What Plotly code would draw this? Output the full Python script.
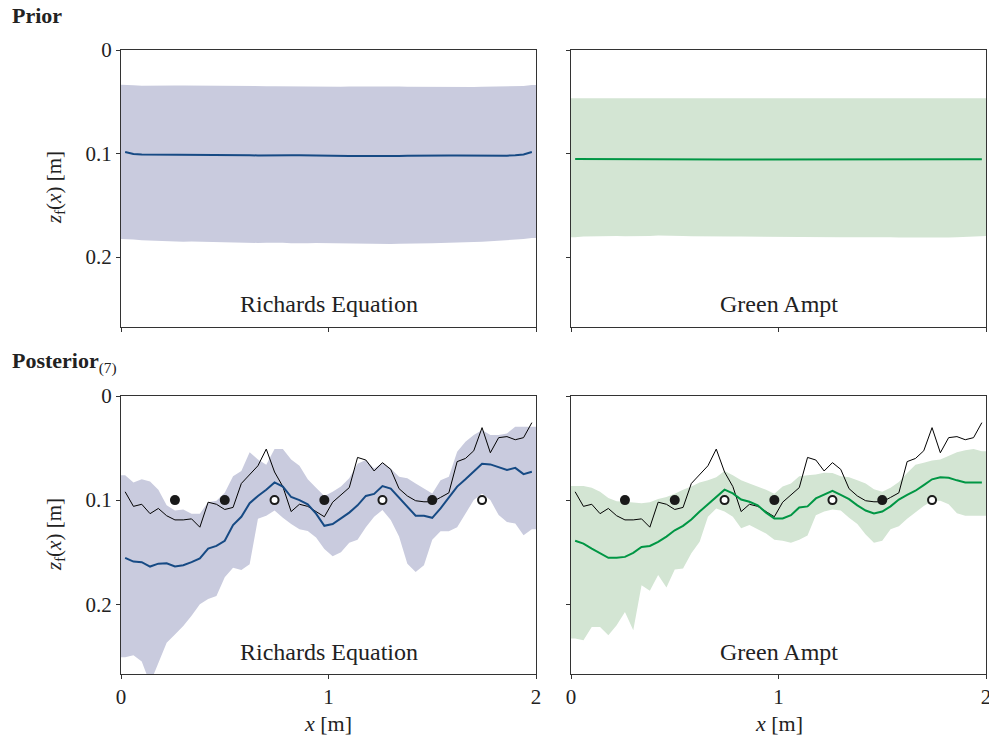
import numpy as np
import plotly.graph_objects as go

# ---------------------------------------------------------------
# Data: wetting-front depth z_f(x) along a 2 m transect (50 cells)
# ---------------------------------------------------------------
X = [round(v, 2) for v in np.arange(0.02, 2.0, 0.04)]
X_MIN, X_MAX = 0.0, 2.0
Y_MAX = 0.267

# reference ("true") front
truth = [0.092, 0.106, 0.104, 0.113, 0.108, 0.115, 0.119, 0.119, 0.118, 0.126,
         0.102, 0.104, 0.109, 0.107, 0.084, 0.076, 0.067, 0.051, 0.073, 0.087,
         0.111, 0.104, 0.106, 0.111, 0.116, 0.102, 0.095, 0.088, 0.059, 0.0615,
         0.072, 0.064, 0.0705, 0.089, 0.096, 0.1006, 0.1016, 0.1016, 0.0974, 0.093,
         0.063, 0.060, 0.0526, 0.0304, 0.0545, 0.040, 0.039, 0.042, 0.040, 0.0256]

# observation locations (filled = used, open = withheld)
obs_x_used = [0.26, 0.50, 0.98, 1.50]
obs_x_held = [0.74, 1.26, 1.74]
obs_depth = 0.1

# --- prior, Richards equation ---
re_prior_mean = [0.0985, 0.1005, 0.101, 0.101, 0.1012, 0.1012, 0.101, 0.101, 0.101, 0.1012,
                 0.1012, 0.1012, 0.1013, 0.1013, 0.1015, 0.1017, 0.1018, 0.1019, 0.1018, 0.1017,
                 0.1017, 0.1016, 0.1016, 0.1017, 0.1018, 0.102, 0.1022, 0.1023, 0.1024, 0.1025,
                 0.1025, 0.1025, 0.1024, 0.1023, 0.1022, 0.102, 0.102, 0.1019, 0.1018, 0.1018,
                 0.1018, 0.1019, 0.102, 0.1021, 0.1022, 0.1021, 0.102, 0.1016, 0.1008, 0.0985]
re_prior_lo = [0.0335, 0.0340, 0.0345, 0.0346, 0.0345, 0.0344, 0.0343, 0.0342, 0.0342, 0.0343,
               0.0345, 0.0347, 0.0346, 0.0345, 0.0344, 0.0345, 0.0347, 0.0349, 0.0351, 0.0352,
               0.0352, 0.0351, 0.0350, 0.0351, 0.0353, 0.0355, 0.0354, 0.0352, 0.0351, 0.0350,
               0.0350, 0.0351, 0.0352, 0.0353, 0.0354, 0.0355, 0.0356, 0.0357, 0.0356, 0.0355,
               0.0356, 0.0358, 0.0357, 0.0355, 0.0354, 0.0355, 0.0356, 0.0355, 0.0348, 0.0338]
re_prior_hi = [0.1825, 0.1830, 0.1838, 0.1842, 0.1846, 0.1850, 0.1852, 0.1851, 0.1850, 0.1852,
               0.1855, 0.1858, 0.1857, 0.1856, 0.1858, 0.1861, 0.1863, 0.1862, 0.1860, 0.1862,
               0.1866, 0.1868, 0.1866, 0.1864, 0.1865, 0.1868, 0.1871, 0.1872, 0.1870, 0.1868,
               0.1869, 0.1872, 0.1873, 0.1871, 0.1868, 0.1866, 0.1865, 0.1866, 0.1864, 0.1860,
               0.1858, 0.1856, 0.1855, 0.1852, 0.1848, 0.1845, 0.1840, 0.1835, 0.1826, 0.1815]

# --- prior, Green-Ampt ---
ga_prior_mean = [0.1052, 0.1052, 0.1052, 0.1051, 0.1051, 0.1051, 0.1051, 0.1051, 0.1051, 0.1050,
                 0.1050, 0.1050, 0.1051, 0.1052, 0.1053, 0.1054, 0.1055, 0.1056, 0.1057, 0.1058,
                 0.1058, 0.1058, 0.1058, 0.1058, 0.1058, 0.1058, 0.1058, 0.1059, 0.1060, 0.1061,
                 0.1062, 0.1063, 0.1063, 0.1063, 0.1062, 0.1061, 0.1060, 0.1059, 0.1059, 0.1059,
                 0.1059, 0.1059, 0.1059, 0.1059, 0.1058, 0.1058, 0.1057, 0.1056, 0.1055, 0.1055]
ga_prior_lo = [0.0465, 0.0466, 0.0466, 0.0465, 0.0465, 0.0465, 0.0465, 0.0465, 0.0466, 0.0467,
               0.0467, 0.0467, 0.0467, 0.0467, 0.0467, 0.0467, 0.0468, 0.0468, 0.0469, 0.0469,
               0.0469, 0.0469, 0.0469, 0.0469, 0.0469, 0.0470, 0.0470, 0.0470, 0.0469, 0.0469,
               0.0469, 0.0469, 0.0469, 0.0469, 0.0469, 0.0469, 0.0469, 0.0469, 0.0469, 0.0469,
               0.0468, 0.0468, 0.0468, 0.0468, 0.0468, 0.0468, 0.0468, 0.0468, 0.0467, 0.0467]
ga_prior_hi = [0.1808, 0.1800, 0.1798, 0.1796, 0.1795, 0.1797, 0.1798, 0.1799, 0.1798, 0.1795,
               0.1792, 0.1791, 0.1792, 0.1795, 0.1798, 0.1800, 0.1801, 0.1802, 0.1802, 0.1802,
               0.1802, 0.1803, 0.1804, 0.1803, 0.1802, 0.1802, 0.1803, 0.1804, 0.1805, 0.1806,
               0.1807, 0.1808, 0.1808, 0.1807, 0.1806, 0.1806, 0.1807, 0.1808, 0.1809, 0.1810,
               0.1811, 0.1812, 0.1812, 0.1812, 0.1811, 0.1810, 0.1809, 0.1806, 0.1802, 0.1796]

# --- posterior, Richards equation ---
re_post_mean = [0.1554, 0.159, 0.1596, 0.1638, 0.161, 0.1606, 0.1638, 0.1625, 0.1596, 0.156,
                0.1465, 0.144, 0.139, 0.124, 0.116, 0.103, 0.096, 0.090, 0.083, 0.087,
                0.097, 0.100, 0.104, 0.113, 0.1247, 0.123, 0.1176, 0.112, 0.105, 0.096,
                0.094, 0.0865, 0.089, 0.098, 0.107, 0.115, 0.115, 0.117, 0.108, 0.0974,
                0.087, 0.080, 0.0728, 0.065, 0.0657, 0.0686, 0.071, 0.069, 0.075, 0.0728]
re_post_lo = [0.076, 0.083, 0.080, 0.082, 0.090, 0.105, 0.110, 0.109, 0.113, 0.113,
              0.102, 0.1005, 0.093, 0.077, 0.072, 0.054, 0.061, 0.066, 0.051, 0.051,
              0.061, 0.067, 0.080, 0.088, 0.096, 0.092, 0.087, 0.079, 0.065, 0.0615,
              0.0696, 0.064, 0.0696, 0.0776, 0.079, 0.084, 0.089, 0.0936, 0.081, 0.0776,
              0.0535, 0.044, 0.0375, 0.0327, 0.0375, 0.0375, 0.036, 0.0295, 0.0295, 0.0295]
re_post_hi = [0.251, 0.249, 0.255, 0.276, 0.257, 0.237, 0.229, 0.221, 0.211, 0.200,
              0.195, 0.192, 0.174, 0.165, 0.167, 0.1616, 0.118, 0.115, 0.110, 0.117,
              0.123, 0.128, 0.1296, 0.136, 0.147, 0.154, 0.150, 0.141, 0.138, 0.126,
              0.116, 0.1096, 0.119, 0.135, 0.161, 0.169, 0.1625, 0.138, 0.130, 0.130,
              0.126, 0.113, 0.100, 0.0936, 0.100, 0.1144, 0.121, 0.1224, 0.1337, 0.128]

# --- posterior, Green-Ampt ---
ga_post_mean = [0.139, 0.1417, 0.1465, 0.151, 0.1554, 0.1554, 0.1545, 0.1506, 0.145, 0.144,
                0.140, 0.135, 0.129, 0.1247, 0.1186, 0.111, 0.104, 0.0968, 0.090, 0.0936,
                0.0994, 0.1016, 0.105, 0.112, 0.1176, 0.1176, 0.1144, 0.107, 0.106, 0.0984,
                0.0945, 0.091, 0.095, 0.099, 0.105, 0.110, 0.1128, 0.111, 0.106, 0.0994,
                0.095, 0.091, 0.0856, 0.080, 0.078, 0.0785, 0.081, 0.083, 0.083, 0.083]
ga_post_lo = [0.0865, 0.0865, 0.088, 0.092, 0.098, 0.101, 0.1016, 0.1026, 0.103, 0.102,
              0.099, 0.097, 0.094, 0.090, 0.087, 0.083, 0.081, 0.078, 0.072, 0.076,
              0.081, 0.084, 0.087, 0.090, 0.094, 0.087, 0.084, 0.077, 0.076, 0.0755,
              0.0736, 0.074, 0.077, 0.078, 0.081, 0.084, 0.0896, 0.092, 0.088, 0.0826,
              0.074, 0.066, 0.064, 0.062, 0.061, 0.0576, 0.054, 0.052, 0.051, 0.053]
ga_post_hi = [0.233, 0.2346, 0.2218, 0.2218, 0.2298, 0.2202, 0.2074, 0.225, 0.1817, 0.187,
              0.172, 0.184, 0.1667, 0.1657, 0.151, 0.140, 0.116, 0.108, 0.111, 0.116,
              0.127, 0.124, 0.128, 0.132, 0.138, 0.139, 0.141, 0.138, 0.134, 0.1146,
              0.111, 0.109, 0.110, 0.117, 0.123, 0.133, 0.141, 0.139, 0.128, 0.125,
              0.118, 0.112, 0.1056, 0.1008, 0.1006, 0.104, 0.1126, 0.115, 0.115, 0.115]

# ---------------------------------------------------------------
# Styling
# ---------------------------------------------------------------
RE_LINE, RE_BAND = "rgb(22,74,132)", "rgb(201,203,222)"
GA_LINE, GA_BAND = "rgb(0,150,68)", "rgb(211,229,211)"
SERIF = "Liberation Serif, DejaVu Serif, serif"
AX_COL = "#333333"
TXT_COL = "#222222"

W, H = 989, 736
LEFT_DOM = [121 / W, 536 / W]
RIGHT_DOM = [571 / W, 986 / W]
TOP_DOM = [1 - 326.5 / H, 1 - 50 / H]
BOT_DOM = [1 - 674 / H, 1 - 396 / H]

fig = go.Figure()


def padded(vals):
    """Extend a cell-centred band to the edges of the transect."""
    return [X_MIN] + X + [X_MAX], [vals[0]] + list(vals) + [vals[-1]]


def add_band(lo, hi, color, xa, ya):
    bx, blo = padded(lo)
    _, bhi = padded(hi)
    fig.add_trace(go.Scatter(x=bx, y=blo, mode="lines", line=dict(width=0),
                             hoverinfo="skip", showlegend=False, xaxis=xa, yaxis=ya))
    fig.add_trace(go.Scatter(x=bx, y=bhi, mode="lines", line=dict(width=0),
                             fill="tonexty", fillcolor=color, hoverinfo="skip",
                             showlegend=False, xaxis=xa, yaxis=ya))


def add_line(vals, color, width, xa, ya):
    fig.add_trace(go.Scatter(x=X, y=vals, mode="lines", line=dict(color=color, width=width),
                             showlegend=False, xaxis=xa, yaxis=ya))


def add_obs(xa, ya):
    fig.add_trace(go.Scatter(x=obs_x_used, y=[obs_depth] * len(obs_x_used), mode="markers",
                             marker=dict(size=10, color="#1a1a1a", line=dict(width=0)),
                             showlegend=False, xaxis=xa, yaxis=ya))
    fig.add_trace(go.Scatter(x=obs_x_held, y=[obs_depth] * len(obs_x_held), mode="markers",
                             marker=dict(size=8, color="white", line=dict(width=2, color="#1a1a1a")),
                             showlegend=False, xaxis=xa, yaxis=ya))


# prior panels
add_band(re_prior_lo, re_prior_hi, RE_BAND, "x", "y")
add_line(re_prior_mean, RE_LINE, 2, "x", "y")
add_band(ga_prior_lo, ga_prior_hi, GA_BAND, "x2", "y2")
add_line(ga_prior_mean, GA_LINE, 2, "x2", "y2")

# posterior panels
add_band(re_post_lo, re_post_hi, RE_BAND, "x3", "y3")
add_line(truth, "black", 1, "x3", "y3")
add_line(re_post_mean, RE_LINE, 2, "x3", "y3")
add_obs("x3", "y3")
add_band(ga_post_lo, ga_post_hi, GA_BAND, "x4", "y4")
add_line(truth, "black", 1, "x4", "y4")
add_line(ga_post_mean, GA_LINE, 2, "x4", "y4")
add_obs("x4", "y4")

tick_font = dict(family=SERIF, size=21, color=TXT_COL)
common_x = dict(range=[X_MIN, X_MAX], tickvals=[0, 1, 2], ticks="outside", ticklen=4,
                tickcolor=AX_COL, showline=True, linecolor=AX_COL, linewidth=1, mirror=True,
                showgrid=False, zeroline=False, tickfont=tick_font, automargin=False,
                ticklabeloverflow="allow")
common_y = dict(range=[Y_MAX, 0], tickvals=[0, 0.1, 0.2], ticktext=["0", "0.1", "0.2"],
                ticks="outside", ticklen=4, tickcolor=AX_COL, showline=True,
                linecolor=AX_COL, linewidth=1, mirror=True, showgrid=False, zeroline=False,
                tickfont=tick_font, automargin=False)

fig.update_layout(
    width=W, height=H, margin=dict(l=0, r=0, t=0, b=0, autoexpand=False),
    paper_bgcolor="white", plot_bgcolor="white",
    font=dict(family=SERIF, color=TXT_COL),
    xaxis=dict(common_x, domain=LEFT_DOM, anchor="y", showticklabels=False),
    yaxis=dict(common_y, domain=TOP_DOM, anchor="x"),
    xaxis2=dict(common_x, domain=RIGHT_DOM, anchor="y2", showticklabels=False),
    yaxis2=dict(common_y, domain=TOP_DOM, anchor="x2", showticklabels=False),
    xaxis3=dict(common_x, domain=LEFT_DOM, anchor="y3"),
    yaxis3=dict(common_y, domain=BOT_DOM, anchor="x3"),
    xaxis4=dict(common_x, domain=RIGHT_DOM, anchor="y4"),
    yaxis4=dict(common_y, domain=BOT_DOM, anchor="x4", showticklabels=False),
)

ann = []
# panel labels
for xr, yr, txt in [("x domain", "y domain", "Richards Equation"),
                    ("x2 domain", "y2 domain", "Green Ampt"),
                    ("x3 domain", "y3 domain", "Richards Equation"),
                    ("x4 domain", "y4 domain", "Green Ampt")]:
    ann.append(dict(xref=xr, yref=yr, x=0.5, y=0.08, text=txt, showarrow=False,
                    xanchor="center", yanchor="middle",
                    font=dict(family=SERIF, size=24, color=TXT_COL)))
# y-axis titles
for yc in [1 - 188 / H, 1 - 535 / H]:
    ann.append(dict(xref="paper", yref="paper", x=55 / W, y=yc, textangle=-90,
                    text="<i>z</i><sub>f</sub>(<i>x</i>) [m]", showarrow=False,
                    xanchor="center", yanchor="middle",
                    font=dict(family=SERIF, size=21, color=TXT_COL)))
# x-axis titles
for xc in [328 / W, 779 / W]:
    ann.append(dict(xref="paper", yref="paper", x=xc, y=1 - 723 / H,
                    text="<i>x</i> [m]", showarrow=False, xanchor="center", yanchor="middle",
                    font=dict(family=SERIF, size=22, color=TXT_COL)))
# section headings
ann.append(dict(xref="paper", yref="paper", x=10 / W, y=1 - 16 / H, text="<b>Prior</b>",
                showarrow=False, xanchor="left", yanchor="middle",
                font=dict(family=SERIF, size=22, color=TXT_COL)))
ann.append(dict(xref="paper", yref="paper", x=10 / W, y=1 - 362 / H,
                text="<b>Posterior</b><sub>(7)</sub>", showarrow=False,
                xanchor="left", yanchor="middle",
                font=dict(family=SERIF, size=22, color=TXT_COL)))
fig.update_layout(annotations=ann)

fig.write_html("out.html")
